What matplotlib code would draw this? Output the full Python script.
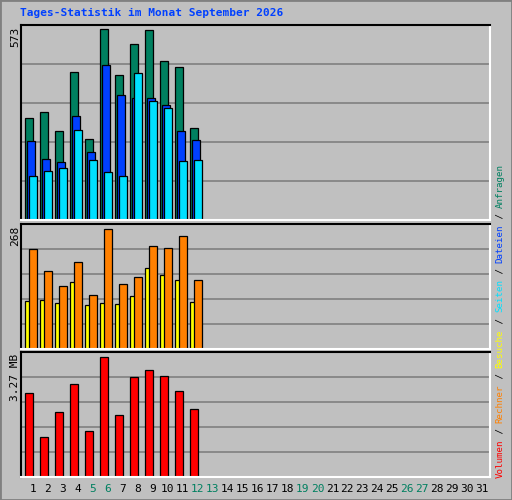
import matplotlib
matplotlib.use("Agg")
import matplotlib.pyplot as plt
import numpy as np

days = list(range(1, 32))
weekend = [5, 6, 12, 13, 19, 20, 26, 27]
hits  = [306, 324, 267, 444, 243, 573, 435, 528, 570, 477, 459, 276]
files = [237, 183, 174, 312, 204, 465, 375, 366, 366, 345, 267, 240]
pages = [132, 147, 156, 270, 180, 144, 132, 441, 357, 336, 177, 180]
visits = [107, 109, 103, 150, 98, 103, 100, 118, 181, 165, 154, 106]
sites  = [223, 174, 141, 194, 121, 268, 145, 161, 230, 226, 252, 154]
volume = [2.30, 1.10, 1.78, 2.54, 1.26, 3.27, 1.70, 2.73, 2.92, 2.76, 2.33, 1.86]
max_hits, max_sites, max_vol = 573, 268, 3.27

MONO = "DejaVu Sans Mono"
BG = "#C0C0C0"
fig = plt.figure(figsize=(5.12, 5.0), dpi=100, facecolor=BG)
SL = 14.97
XL = (1-12/SL, 31+8/SL)

def mkax(top, bot, ymax):
    ax = fig.add_axes([21/512, 1-bot/500, 469/512, (bot-top)/500])
    ax.set_facecolor(BG)
    ax.set_xlim(*XL)
    ax.set_ylim(0, ymax)
    ax.set_yticks(np.linspace(0, ymax, 6)[1:-1])
    ax.grid(axis="y", color="#808080", lw=1.2)
    ax.set_axisbelow(True)
    ax.tick_params(length=0, labelleft=False, labelbottom=False)
    for s in ("left", "top"):
        ax.spines[s].set_color("black")
    for s in ("right", "bottom"):
        ax.spines[s].set_color("white")
    for s in ax.spines.values():
        s.set_linewidth(1.5)
    return ax

ax1 = mkax(25, 220, max_hits*195/191)
ax2 = mkax(224, 349, max_sites*125/120)
ax3 = mkax(352, 477, max_vol*125/120)

n = len(hits)
x = np.arange(1, n+1)
w = 0.53
kw = dict(edgecolor="black", linewidth=0.9, align="edge")
ax1.bar(x-0.53, hits, w, color="#008060", **kw)
ax1.bar(x-0.40, files, w, color="#0040FF", **kw)
ax1.bar(x-0.27, pages, w, color="#00E0FF", **kw)
ax2.bar(x-0.53, visits, w, color="#FFFF00", **kw)
ax2.bar(x-0.27, sites, w, color="#FF8000", **kw)
ax3.bar(x-0.53, volume, w, color="#FF0000", **kw)

fig.text(20/512, 1-13/500, "Tages-Statistik im Monat September 2026", color="#0040FF",
         family=MONO, fontweight="bold", fontsize=8, va="center", ha="left")
for txt, ytop in (("573", 27), ("268", 226), ("3.27 MB", 354)):
    fig.text(15/512, 1-ytop/500, txt, rotation=90, family=MONO, fontsize=8,
             va="top", ha="center")

for d in days:
    xf = (33 + (d-1)*SL)/512
    fig.text(xf, 1-489/500, str(d), family=MONO, fontsize=8, ha="center", va="center",
             color="#008060" if d in weekend else "black")

segs = [("Volumen", "#FF0000"), (" / ", "black"), ("Rechner", "#FF8000"), (" / ", "black"),
        ("Besuche", "#FFFF00"), (" / ", "black"), ("Seiten", "#00E0FF"), (" / ", "black"),
        ("Dateien", "#0040FF"), (" / ", "black"), ("Anfragen", "#008060")]
fs = 6.6
cw = 0.602*fs*100/72
y = 478
for t, c in segs:
    fig.text(500/512, 1-y/500, t, rotation=90, family=MONO, fontsize=fs, color=c,
             va="bottom", ha="center")
    y -= cw*len(t)

fig.add_artist(plt.Rectangle((0, 0), 1, 1, transform=fig.transFigure, fill=False,
                             edgecolor="#808080", lw=2))
fig.savefig("out.png", dpi=100, facecolor=BG)
